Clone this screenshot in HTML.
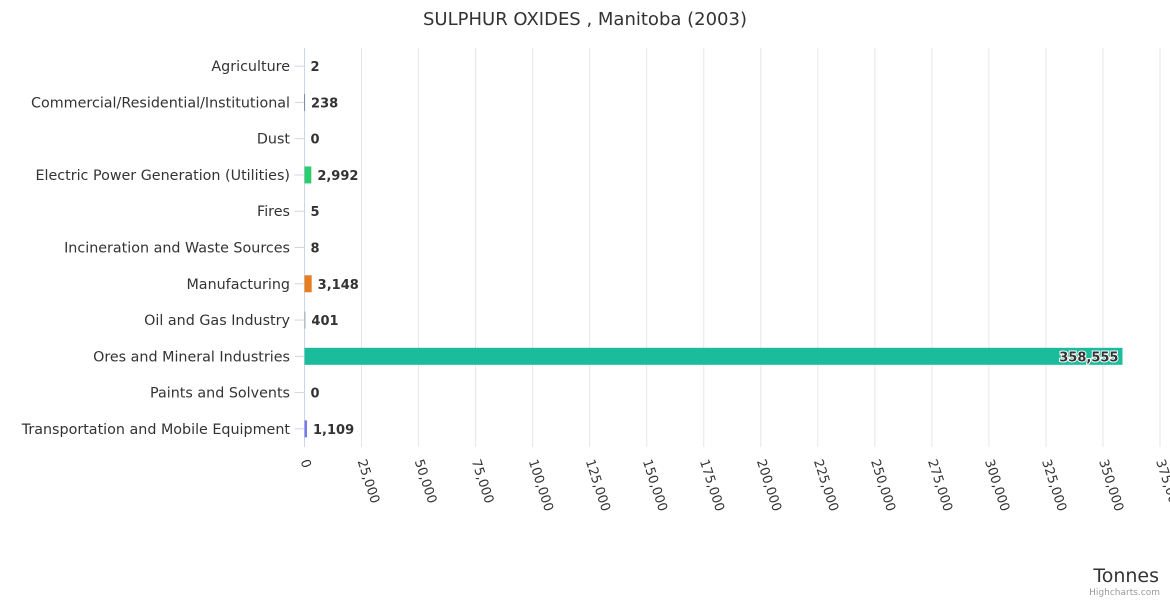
<!DOCTYPE html>
<html><head><meta charset="utf-8"><style>
body{margin:0;background:#fff;font-family:"Liberation Sans","DejaVu Sans",sans-serif}
svg text{font-family:"DejaVu Sans","Liberation Sans",sans-serif}
</style></head><body>
<svg id="chart" width="1170" height="600" xmlns="http://www.w3.org/2000/svg">
<text x="585" y="25" text-anchor="middle" font-size="18" fill="#333">SULPHUR OXIDES , Manitoba (2003)</text>
<g id="grid"></g><g id="bars"></g><g id="labels"></g>
<text x="1159" y="582" text-anchor="end" font-size="19" fill="#333">Tonnes</text>
<text x="1160" y="595" text-anchor="end" font-size="9" fill="#999">Highcharts.com</text>
</svg>
<script>
const categories=["Agriculture","Commercial/Residential/Institutional","Dust","Electric Power Generation (Utilities)","Fires","Incineration and Waste Sources","Manufacturing","Oil and Gas Industry","Ores and Mineral Industries","Paints and Solvents","Transportation and Mobile Equipment"];
const values=[2,238,0,2992,5,8,3148,401,358555,0,1109];
const colors=["#4a90d9","#34495e","#9b59b6","#2ecc71","#e74c3c","#f1c40f","#e67e22","#95a5a6","#1abc9c","#3498db","#7b7be8"];
const ticks=[0,25000,50000,75000,100000,125000,150000,175000,200000,225000,250000,275000,300000,325000,350000,375000];
const NS="http://www.w3.org/2000/svg";
const x0=304.5,x1=1160,xMax=375000,yTop=48,yBottom=447;
const xs=v=>x0+v/xMax*(x1-x0);
const band=(yBottom-yTop)/categories.length;
const yc=i=>yTop+band*(i+0.5);
function mk(t,a,p){const e=document.createElementNS(NS,t);for(const k in a)e.setAttribute(k,a[k]);p.appendChild(e);return e;}
const fmt=v=>v.toLocaleString('en-US');
const G=document.getElementById('grid'),B=document.getElementById('bars'),L=document.getElementById('labels');
ticks.forEach(t=>{
 if(t>0){const g=mk('line',{x1:xs(t),x2:xs(t),y1:yTop,y2:yBottom,stroke:'#e6e6e6'},G);
 
 }
 const tx=mk('text',{transform:`translate(${xs(t)-4},461) rotate(72)`,'font-size':13,fill:'#333'},L);
 tx.textContent=fmt(t);
 
 
});
const ax=mk('line',{x1:x0,x2:x0,y1:yTop,y2:yBottom,stroke:'#ccd6eb'},G);


categories.forEach((c,i)=>{
 const y=yc(i);
 const tk=mk('line',{x1:x0-10,x2:x0,y1:y,y2:y,stroke:'#ccd6eb'},G);
 
 
 const lb=mk('text',{x:290,y:y+5,'text-anchor':'end','font-size':14.3,fill:'#333'},L);
 lb.textContent=c;
 
 
 const w=xs(values[i])-x0;
 const r=mk('rect',{x:x0,y:y-8.5,width:Math.max(w,0),height:17,fill:colors[i]},B);
 
 
 const inside=w>200;
 const vl=mk('text',{x:inside?xs(values[i])-4:xs(values[i])+6,y:y+5,'text-anchor':inside?'end':'start','font-size':13,'font-weight':'bold',fill:'#333',stroke:'#fff','stroke-width':inside?2:0,'paint-order':'stroke'},L);
 vl.textContent=fmt(values[i]);
 
 
});
</script>
</body></html>
